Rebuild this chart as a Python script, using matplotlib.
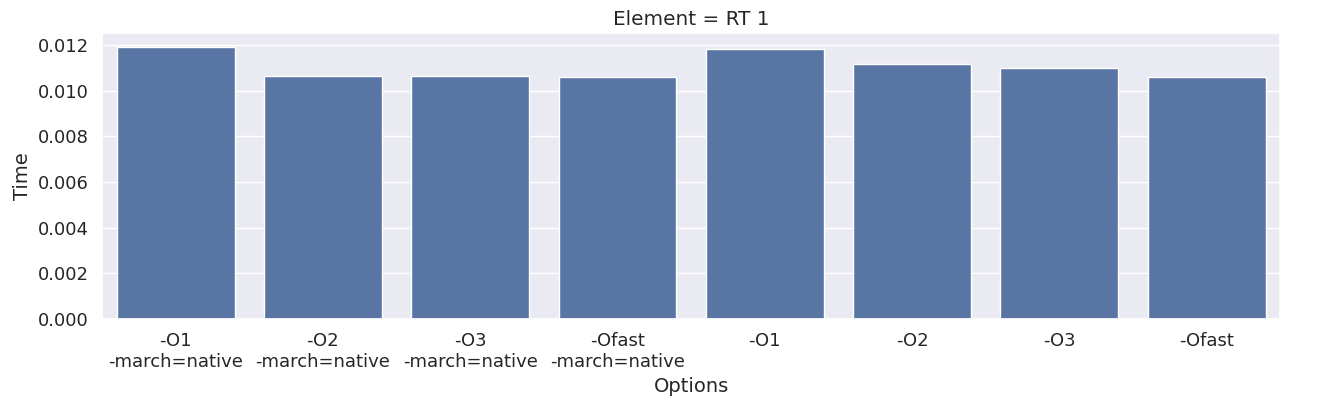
import matplotlib
matplotlib.use("Agg")
import matplotlib.pyplot as plt
import seaborn as sns
import pandas as pd

options = ["-O1\n-march=native", "-O2\n-march=native", "-O3\n-march=native",
           "-Ofast\n-march=native", "-O1", "-O2", "-O3", "-Ofast"]
times = [0.01193, 0.01064, 0.01064, 0.01060, 0.01184, 0.01118, 0.01099, 0.01060]

sns.set_theme(style="darkgrid", font_scale=1.0)
plt.rcParams['font.family'] = ['DejaVu Sans']

df = pd.DataFrame({"Options": options, "Time": times})

fig, ax = plt.subplots(figsize=(13.42, 4.05), dpi=100)
fig.subplots_adjust(left=0.076, right=0.954, top=0.9185, bottom=0.212)
sns.barplot(data=df, x="Options", y="Time", color="#4c72b0", ax=ax)
ax.set_title("Element = RT 1")
ax.tick_params(labelsize=13)
ax.title.set_fontsize(14.4)
ax.xaxis.label.set_fontsize(14)
ax.yaxis.label.set_fontsize(14)
fig.savefig("out.png", dpi=100)
